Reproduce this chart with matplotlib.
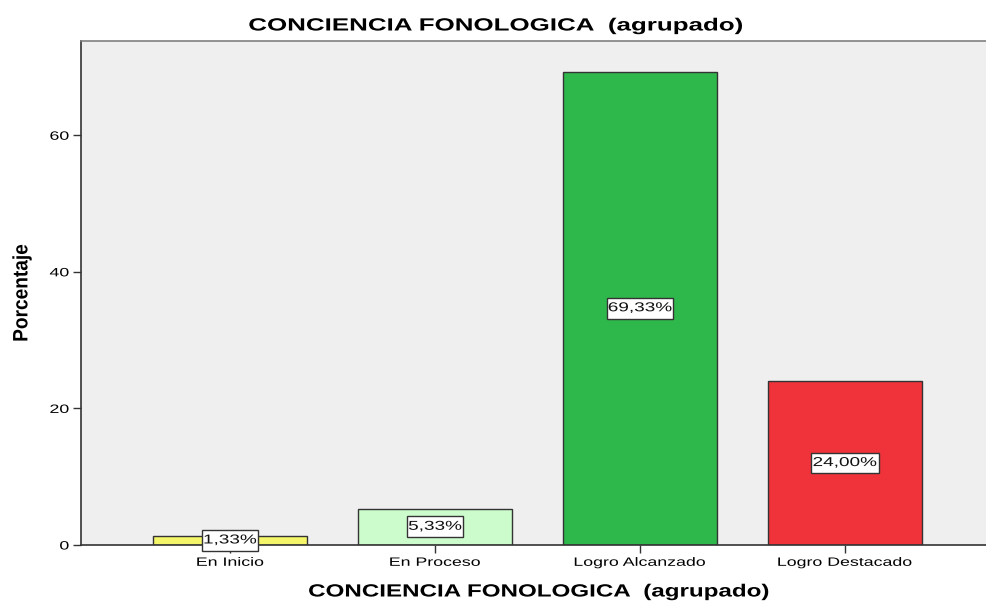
import matplotlib
matplotlib.use("Agg")
import matplotlib.pyplot as plt
from matplotlib.patheffects import AbstractPathEffect
from matplotlib.transforms import Affine2D

categories = ["En Inicio", "En Proceso", "Logro Alcanzado", "Logro Destacado"]
values = [1.33, 5.33, 69.33, 24.00]
labels = ["1,33%", "5,33%", "69,33%", "24,00%"]
colors = ["#f5f56a", "#ccfccc", "#2eb84b", "#f0333a"]
yticks = [0, 20, 40, 60]
title = "CONCIENCIA FONOLOGICA  (agrupado)"
xlabel = "CONCIENCIA FONOLOGICA  (agrupado)"
ylabel = "Porcentaje"

plt.rcParams['font.family'] = ['Liberation Sans', 'DejaVu Sans']


class Stretch(AbstractPathEffect):
    """Draw the artist's path widened along its own baseline (x) and/or height (y)."""
    def __init__(self, sx=1.0, sy=1.0, anchor="center"):
        super().__init__()
        self.sx, self.sy, self.anchor = sx, sy, anchor

    def draw_path(self, renderer, gc, tpath, affine, rgbFace=None):
        ext = tpath.get_extents()
        if self.anchor == "right":
            cx = ext.x1
        elif self.anchor == "left":
            cx = ext.x0
        else:
            cx = (ext.x0 + ext.x1) / 2
        cy = (ext.y0 + ext.y1) / 2
        t = Affine2D().translate(-cx, -cy).scale(self.sx, self.sy).translate(cx, cy) + affine
        renderer.draw_path(gc, tpath, t, rgbFace)


SX = 1.47
fig = plt.figure(figsize=(9.86, 6.02), dpi=100)
W, H = 986, 602
left, right, top, bottom = 81, 994, 41, 545
ax = fig.add_axes([left / W, 1 - bottom / H, (right - left) / W, (bottom - top) / H])
ax.set_facecolor("#efefef")

x = list(range(len(categories)))
ax.bar(x, values, width=0.75, color=colors, edgecolor="#333333", linewidth=1.0, zorder=2)
for xi, v, lab in zip(x, values, labels):
    t = ax.text(xi, v / 2, lab, ha="center", va="center", fontsize=9.3, color="#111111",
                bbox=dict(boxstyle="square,pad=0.1", facecolor="white", edgecolor="#333333",
                          linewidth=1.0),
                zorder=5, clip_on=False)
    t.set_path_effects([Stretch(SX)])
    t.get_bbox_patch().set_path_effects([Stretch(SX * 0.98, 1.42)])

ax.set_xlim(-0.727, 3.727)
ax.set_ylim(0, 73.8)
ax.set_xticks(x)
ax.set_xticklabels(categories, fontsize=8.7)
ax.set_yticks(yticks)
ax.set_yticklabels([str(tk) for tk in yticks], fontsize=8.7)
ax.tick_params(axis="both", direction="out", length=6, width=1.0, color="#333333", pad=2.5)
for lab in ax.get_xticklabels():
    lab.set_path_effects([Stretch(SX)])
for lab in ax.get_yticklabels():
    lab.set_path_effects([Stretch(SX, anchor="right")])
for s in ["left", "bottom"]:
    ax.spines[s].set_color("#333333")
    ax.spines[s].set_linewidth(1.2)
ax.spines["top"].set_color("#808080")
ax.spines["top"].set_linewidth(1.2)
ax.spines["right"].set_visible(False)

tt = fig.text(496 / W, 1 - 26 / H, title, ha="center", va="center",
              fontsize=12.7, fontweight="bold")
tt.set_path_effects([Stretch(SX)])
xl = fig.text(539 / W, 1 - 592 / H, xlabel, ha="center", va="center",
              fontsize=12.7, fontweight="bold")
xl.set_path_effects([Stretch(1.37)])
yl = fig.text(22 / W, 1 - 293 / H, ylabel, ha="center", va="center", rotation=90,
              fontsize=12.5, fontweight="bold")
yl.set_path_effects([Stretch(1.1, 1.2)])

fig.savefig("out.png", dpi=100)
